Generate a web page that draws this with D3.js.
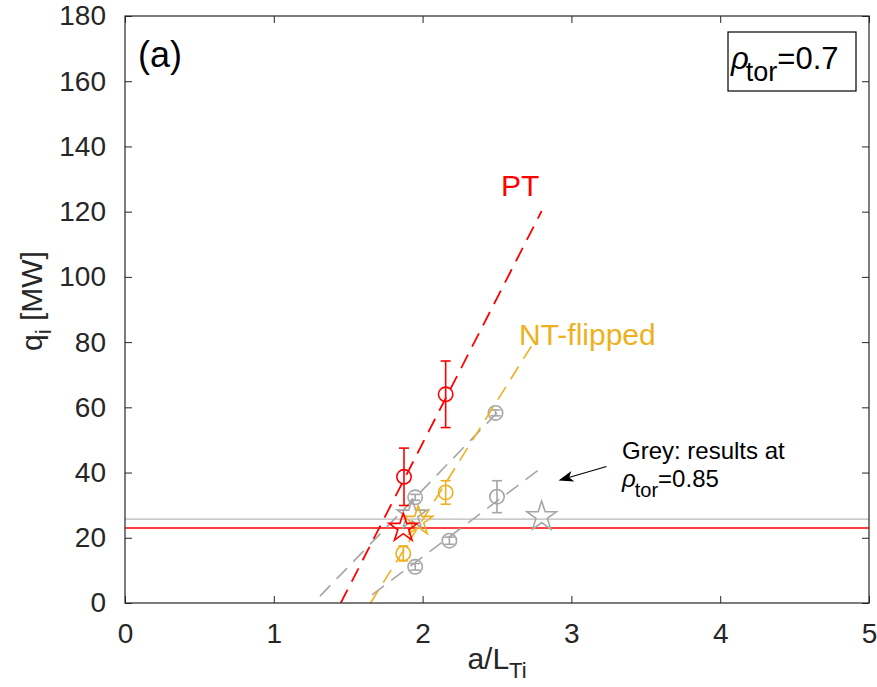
<!DOCTYPE html>
<html>
<head>
<meta charset="utf-8">
<script src="https://cdn.jsdelivr.net/npm/d3@7"></script>
<style>
  html, body { margin: 0; padding: 0; background: #fff; }
  svg { display: block; font-family: "Liberation Sans", Arial, Helvetica, sans-serif; }
</style>
</head>
<body>
<svg id="chart" width="877" height="687"></svg>
<script>
// ---- data -------------------------------------------------------------
const xTicks = [0, 1, 2, 3, 4, 5];
const yTicks = [0, 20, 40, 60, 80, 100, 120, 140, 160, 180];

// PT at rho_tor = 0.7
const ptX   = [1.875, 2.155];
const ptQ   = [38.7, 64.0];
const ptErr = [8.8, 10.2];
const ptFitX = [1.45, 2.80];
const ptFitQ = [0.0, 120.2];
const ptStar = [1.87, 23.0];
const ptExpQ = 23.0;

// NT-flipped at rho_tor = 0.7
const ntX   = [1.87, 2.155];
const ntQ   = [15.2, 33.9];
const ntErr = [2.3, 3.6];
const ntFitX = [1.65, 2.77];
const ntFitQ = [0.0, 81.6];
const ntStar = [1.97, 25.1];

// grey: results at rho_tor = 0.85
const gUpX   = [1.95, 2.49];
const gUpQ   = [32.4, 58.3];
const gUpErr = [0.9, 0.9];
const gUpFitX = [1.31, 2.53];
const gUpFitQ = [2.1, 59.7];

const gLoX   = [1.95, 2.18, 2.50];
const gLoQ   = [11.1, 19.1, 32.6];
const gLoErr = [1.0, 1.1, 4.9];
const gLoFitX = [1.66, 2.80];
const gLoFitQ = [2.5, 41.5];

const gStarX = [1.93, 2.80];
const gStarQ = [27.0, 26.5];
const gExpQ = 25.7;

// ---- layout -----------------------------------------------------------
const svg = d3.select("#chart");
const x = d3.scaleLinear().domain([0, 5]).range([125, 869]);
const y = d3.scaleLinear().domain([0, 180]).range([603, 16]);

const RED = "#ff0000", YEL = "#edb120", GREY = "#a6a6a6", GREYL = "#b8b8b8", AX = "#262626";

const defs = svg.append("defs");
defs.append("clipPath").attr("id", "plotclip")
  .append("rect").attr("x", x(0)).attr("y", y(180))
  .attr("width", x(5) - x(0)).attr("height", y(0) - y(180));

const plot = svg.append("g").attr("clip-path", "url(#plotclip)");

// horizontal reference lines
plot.append("line").attr("x1", x(0)).attr("x2", x(5))
  .attr("y1", y(gExpQ)).attr("y2", y(gExpQ))
  .attr("stroke", GREYL).attr("stroke-width", 1.3);
plot.append("line").attr("x1", x(0)).attr("x2", x(5))
  .attr("y1", y(ptExpQ)).attr("y2", y(ptExpQ))
  .attr("stroke", RED).attr("stroke-width", 1.3);

const line = d3.line().x(d => x(d[0])).y(d => y(d[1]));
function fit(xs, qs, color, w, dash) {
  plot.append("path").datum(d3.zip(xs, qs)).attr("d", line)
    .attr("fill", "none").attr("stroke", color).attr("stroke-width", w)
    .attr("stroke-dasharray", dash);
}
function points(xs, qs, errs, color) {
  const data = d3.zip(xs, qs, errs);
  const g = plot.append("g").attr("stroke", color).attr("fill", "none").attr("stroke-width", 1.6);
  data.forEach(([a, q, e]) => {
    g.append("line").attr("x1", x(a)).attr("x2", x(a)).attr("y1", y(q - e)).attr("y2", y(q + e));
    [q - e, q + e].forEach(v => g.append("line")
      .attr("x1", x(a) - 5).attr("x2", x(a) + 5).attr("y1", y(v)).attr("y2", y(v)));
    g.append("circle").attr("cx", x(a)).attr("cy", y(q)).attr("r", 7.2);
  });
}
function starPath(R) {
  const r = R * 0.382, pts = [];
  for (let i = 0; i < 10; i++) {
    const ang = -Math.PI / 2 + i * Math.PI / 5;
    const rad = i % 2 === 0 ? R : r;
    pts.push([rad * Math.cos(ang), rad * Math.sin(ang)]);
  }
  return "M" + pts.map(p => p.join(",")).join("L") + "Z";
}
function star(a, q, color, R) {
  plot.append("path").attr("d", starPath(R))
    .attr("transform", `translate(${x(a)},${y(q)})`)
    .attr("fill", "none").attr("stroke", color).attr("stroke-width", 1.6)
    .attr("stroke-linejoin", "miter");
}

// grey (rho_tor = 0.85)
fit(gUpFitX, gUpFitQ, GREY, 1.6, "15,9");
fit(gLoFitX, gLoFitQ, GREY, 1.6, "15,9");
points(gUpX, gUpQ, gUpErr, GREY);
points(gLoX, gLoQ, gLoErr, GREY);
d3.zip(gStarX, gStarQ).forEach(([a, q]) => star(a, q, GREY, 15.5));

// NT-flipped
fit(ntFitX, ntFitQ, YEL, 1.6, "15,9");
points(ntX, ntQ, ntErr, YEL);
star(ntStar[0], ntStar[1], YEL, 15.5);

// PT
fit(ptFitX, ptFitQ, RED, 1.8, "15,9");
points(ptX, ptQ, ptErr, RED);
star(ptStar[0], ptStar[1], RED, 15);

// ---- axes -------------------------------------------------------------
const axG = svg.append("g");
axG.append("rect").attr("x", x(0)).attr("y", y(180))
  .attr("width", x(5) - x(0)).attr("height", y(0) - y(180))
  .attr("fill", "none").attr("stroke", AX).attr("stroke-width", 1.2);

const tickLen = 7;
const fmt = d3.format("d");
const axB = d3.axisBottom(x).tickValues(xTicks).tickFormat(fmt).tickSizeInner(-tickLen).tickSizeOuter(0).tickPadding(20);
const axT = d3.axisTop(x).tickValues(xTicks).tickSizeInner(-tickLen).tickSizeOuter(0).tickFormat("");
const axL = d3.axisLeft(y).tickValues(yTicks).tickFormat(fmt).tickSizeInner(-tickLen).tickSizeOuter(0).tickPadding(19);
const axR = d3.axisRight(y).tickValues(yTicks).tickSizeInner(-tickLen).tickSizeOuter(0).tickFormat("");

function style(g) {
  g.select(".domain").remove();
  g.selectAll(".tick line").attr("stroke", AX).attr("stroke-width", 1);
  g.selectAll(".tick text").attr("fill", AX).style("font-size", "28px")
    .style("font-family", "'Liberation Sans', Arial, sans-serif");
}
axG.append("g").attr("transform", `translate(0,${y(0)})`).call(axB).call(style);
axG.append("g").attr("transform", `translate(0,${y(180)})`).call(axT).call(style);
axG.append("g").attr("transform", `translate(${x(0)},0)`).call(axL).call(style);
axG.append("g").attr("transform", `translate(${x(5)},0)`).call(axR).call(style);

// axis titles
const xl = svg.append("text").attr("x", 497).attr("y", 669).attr("text-anchor", "middle")
  .attr("fill", AX).style("font-size", "30px");
xl.append("tspan").text("a/L");
xl.append("tspan").attr("dy", 9).style("font-size", "22px").text("Ti");

const yl = svg.append("text").attr("transform", "translate(42,301) rotate(-90)")
  .attr("text-anchor", "middle").attr("fill", AX).style("font-size", "30px");
yl.append("tspan").text("q");
yl.append("tspan").attr("dy", 9).style("font-size", "22px").text("i");
yl.append("tspan").attr("dy", -9).text(" [MW]");

// panel label
svg.append("text").attr("x", 138).attr("y", 67).attr("fill", "#000")
  .style("font-size", "36px").text("(a)");

// series labels
svg.append("text").attr("x", 501).attr("y", 196).attr("fill", RED)
  .style("font-size", "30px").text("PT");
svg.append("text").attr("x", 519).attr("y", 345).attr("fill", YEL)
  .style("font-size", "30px").text("NT-flipped");

// rho_tor box
svg.append("rect").attr("x", 728).attr("y", 32).attr("width", 128).attr("height", 59)
  .attr("fill", "#fff").attr("stroke", "#000").attr("stroke-width", 1.2);
const bt = svg.append("text").attr("x", 731).attr("y", 69).attr("fill", "#000").style("font-size", "31px");
bt.append("tspan").style("font-style", "italic").text("ρ");
bt.append("tspan").attr("dy", 12).attr("dx", -3).style("font-size", "27px").text("tor");
bt.append("tspan").attr("dy", -12).text("=0.7");

// annotation
const an = svg.append("text").attr("x", 622).attr("y", 459).attr("fill", "#000").style("font-size", "24px");
an.append("tspan").text("Grey: results at");
const an2 = svg.append("text").attr("x", 622).attr("y", 487).attr("fill", "#000").style("font-size", "24px");
an2.append("tspan").style("font-style", "italic").text("ρ");
an2.append("tspan").attr("dy", 10).attr("dx", -1).style("font-size", "20px").text("tor");
an2.append("tspan").attr("dy", -10).text("=0.85");

// arrow pointing toward the grey markers
const ax0 = 606.5, ay0 = 466.5, ax1 = 558.5, ay1 = 480.5;
const ang = Math.atan2(ay1 - ay0, ax1 - ax0);
svg.append("line").attr("x1", ax0).attr("y1", ay0)
  .attr("x2", ax1 - 8 * Math.cos(ang)).attr("y2", ay1 - 8 * Math.sin(ang))
  .attr("stroke", "#000").attr("stroke-width", 1.2);
const hl = 15, hw = 5.5, back = 11;
const px = -Math.sin(ang), py = Math.cos(ang);
const bx = ax1 - hl * Math.cos(ang), by = ay1 - hl * Math.sin(ang);
const nx = ax1 - back * Math.cos(ang), ny = ay1 - back * Math.sin(ang);
svg.append("path")
  .attr("d", `M${ax1},${ay1}L${bx + hw * px},${by + hw * py}L${nx},${ny}L${bx - hw * px},${by - hw * py}Z`)
  .attr("fill", "#000");
</script>
</body>
</html>
